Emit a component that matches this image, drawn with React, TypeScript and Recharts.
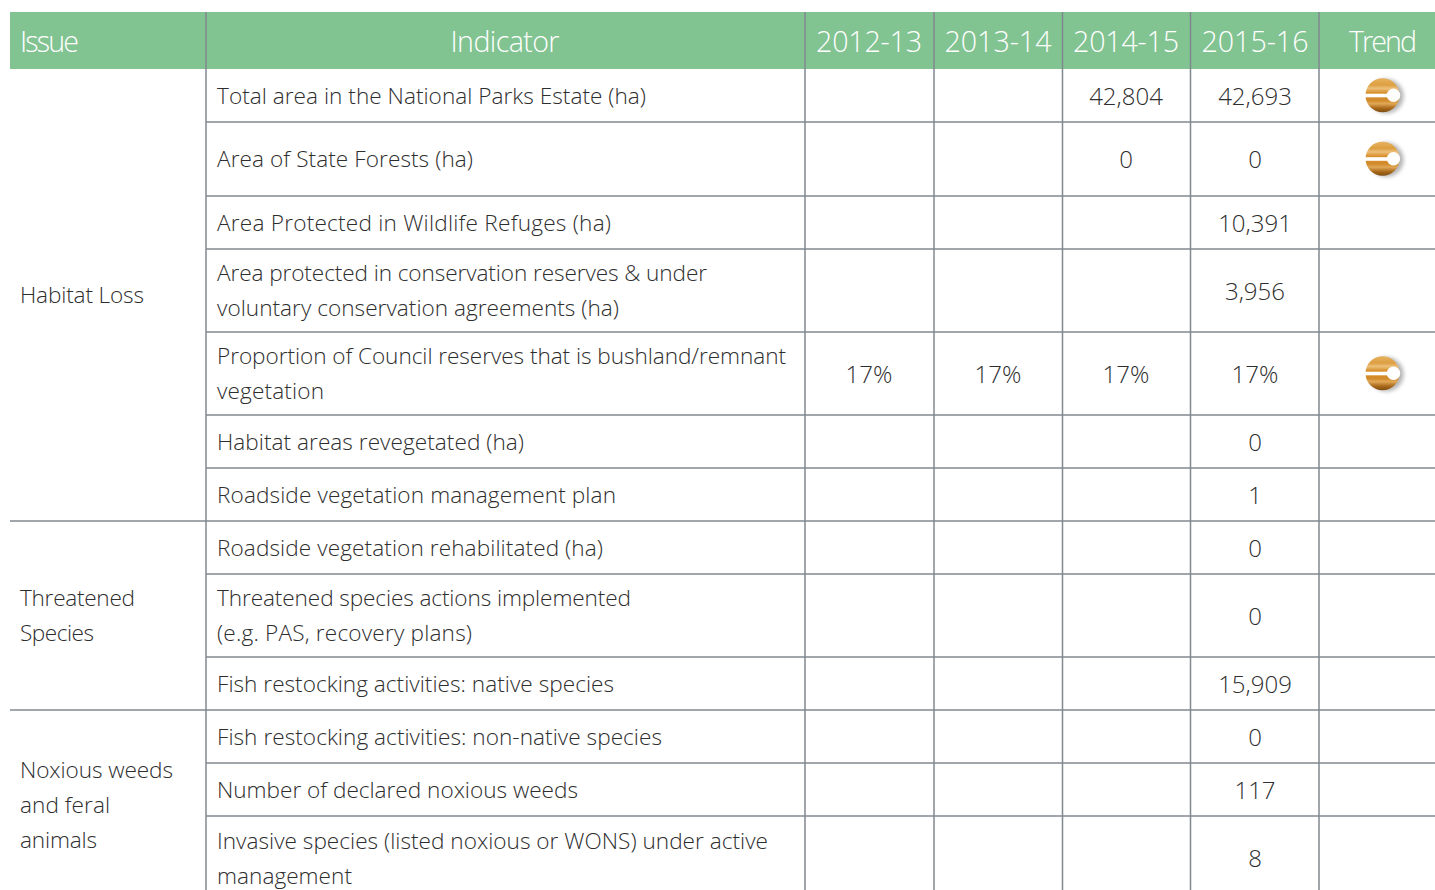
import React from "react";
import { ScatterChart, Scatter, XAxis, YAxis, ReferenceArea, ReferenceLine } from "recharts";

const headers = ["Issue", "Indicator", "2012-13", "2013-14", "2014-15", "2015-16", "Trend"];
const issues = [["Habitat Loss"], ["Threatened", "Species"], ["Noxious weeds", "and feral", "animals"]];
const indicators = [
  ["Total area in the National Parks Estate (ha)"],
  ["Area of State Forests (ha)"],
  ["Area Protected in Wildlife Refuges (ha)"],
  ["Area protected in conservation reserves & under", "voluntary conservation agreements (ha)"],
  ["Proportion of Council reserves that is bushland/remnant", "vegetation"],
  ["Habitat areas revegetated (ha)"],
  ["Roadside vegetation management plan"],
  ["Roadside vegetation rehabilitated (ha)"],
  ["Threatened species actions implemented", "(e.g. PAS, recovery plans)"],
  ["Fish restocking activities: native species"],
  ["Fish restocking activities: non-native species"],
  ["Number of declared noxious weeds"],
  ["Invasive species (listed noxious or WONS) under active", "management"],
];
const values2012 = ["", "", "", "", "17%", "", "", "", "", "", "", "", ""];
const values2013 = ["", "", "", "", "17%", "", "", "", "", "", "", "", ""];
const values2014 = ["42,804", "0", "", "", "17%", "", "", "", "", "", "", "", ""];
const values2015 = ["42,693", "0", "10,391", "3,956", "17%", "0", "1", "0", "0", "15,909", "0", "117", "8"];
const trendRows = [true, true, false, false, true, false, false, false, false, false, false, false, false];

// layout (pixels on the page-sized axes)
const W = 1435, H = 890;
const colEdges = [10, 206, 805, 934, 1062.5, 1190.5, 1319, 1435];
const rowEdges = [69, 122, 196, 249, 332, 415, 468, 521, 574, 657, 710, 763, 816, 900];
const issueSpans = [[0, 7], [7, 10], [10, 13]];
const headCentres = [20, 505, 869, 998, 1126, 1255, 1383];
const headWidths = [59, 109, 106, 107, 106, 107, 68];
const issueWidths = [[124], [115, 74], [153, 90, 77]];
const indicatorWidths = [
  [429], [256], [394], [490, 402], [569, 107], [307], [399], [386], [414, 255], [397], [445], [361], [551, 135],
];
const headTop = 12, lineStep = 34.8, trendX = 1382.5;
const GREY = "#80888f", INK = "#2e2e2e";
const FONT = "'Open Sans', 'Noto Sans', sans-serif";

type Pt = { x: number; y: number; text: string; anchor: string; size: number; color: string; fit?: number };
const rowMid = (a: number, b: number) => (rowEdges[a] + rowEdges[b]) / 2;
const lines = (ls: string[], x: number, mid: number, anchor: string, size: number, widths: number[] = []): Pt[] =>
  ls.map((t, i) => ({
    x,
    y: mid - 0.3 + (i - (ls.length - 1) / 2) * lineStep,
    text: t,
    anchor,
    size,
    color: INK,
    fit: widths[i],
  }));

const headPts: Pt[] = headers.map((t, i) => ({
  x: headCentres[i],
  y: 40,
  text: t,
  anchor: i === 0 ? "start" : "middle",
  size: 28.6,
  color: "#ffffff",
  fit: headWidths[i],
}));
const issuePts: Pt[] = issues.flatMap((ls, i) =>
  lines(ls, 20, rowMid(issueSpans[i][0], issueSpans[i][1]), "start", 22.6, issueWidths[i])
);
const indicatorPts: Pt[] = indicators.flatMap((ls, i) =>
  lines(ls, 217, rowMid(i, i + 1), "start", 22.6, indicatorWidths[i])
);
const valuePts: Pt[] = [values2012, values2013, values2014, values2015].flatMap((col, c) =>
  col.flatMap((v, r) => (v ? lines([v], headCentres[c + 2], rowMid(r, r + 1), "middle", 24) : []))
);
const trendPts = trendRows.flatMap((on, r) => (on ? [{ x: trendX, y: rowMid(r, r + 1) - 0.3 }] : []));

const TextMark = (p: any) => {
  const d: Pt = p.payload;
  return (
    <text
      x={p.cx}
      y={p.cy}
      textAnchor={d.anchor as any}
      dominantBaseline="central"
      fill={d.color}
      textLength={d.fit}
      style={{ fontFamily: FONT, fontSize: d.size, fontWeight: 300 }}
    >
      {d.text}
    </text>
  );
};

const TrendMark = (p: any) => {
  const { cx, cy } = p;
  return (
    <g>
      <circle cx={cx + 4} cy={cy + 1} r={17} fill="#000" opacity={0.3} filter="url(#trendBlur)" />
      <circle cx={cx} cy={cy} r={17} fill="url(#trendFill)" />
      <rect x={cx - 18} y={cy - 1.5} width={29} height={3.6} fill="#fff" />
      <circle cx={cx + 11} cy={cy} r={6.7} fill="#fff" />
    </g>
  );
};

const vLines = colEdges.slice(1, -1);
const hLines = rowEdges.slice(1, -1).map((y, i) => ({
  y,
  x0: issueSpans.some((s) => s[1] === i + 1) ? colEdges[0] : colEdges[1],
}));

export default function App() {
  return (
    <div style={{ position: "absolute", left: 0, top: 0, width: W, height: H, overflow: "hidden", background: "#fff" }}>
      <ScatterChart width={W} height={H} margin={{ top: 0, right: 0, bottom: 0, left: 0 }}>
        <defs>
          <linearGradient id="trendFill" x1="0" y1="0" x2="0" y2="1">
            <stop offset="0" stopColor="#e6b25f" />
            <stop offset="0.2" stopColor="#dd9f42" />
            <stop offset="0.3" stopColor="#ecc07a" />
            <stop offset="0.42" stopColor="#d8922f" />
            <stop offset="0.65" stopColor="#d28a2a" />
            <stop offset="0.75" stopColor="#e0a856" />
            <stop offset="0.88" stopColor="#a9691a" />
            <stop offset="1" stopColor="#7f4e10" />
          </linearGradient>
          <filter id="trendBlur" x="-30%" y="-30%" width="160%" height="160%">
            <feGaussianBlur stdDeviation="2" />
          </filter>
        </defs>
        <XAxis type="number" dataKey="x" domain={[0, W]} hide allowDataOverflow />
        <YAxis type="number" dataKey="y" domain={[0, H]} reversed hide allowDataOverflow />
        <ReferenceArea x1={colEdges[0]} x2={W} y1={headTop} y2={rowEdges[0]} fill="#82c392" fillOpacity={1} stroke="none" />
        {hLines.map((l) => (
          <ReferenceLine key={l.y} segment={[{ x: l.x0, y: l.y }, { x: W, y: l.y }]} stroke={GREY} strokeWidth={1.5} />
        ))}
        {vLines.map((x) => (
          <ReferenceLine key={x} segment={[{ x, y: headTop }, { x, y: H }]} stroke={GREY} strokeWidth={1.5} />
        ))}
        <Scatter data={headPts} shape={TextMark} isAnimationActive={false} />
        <Scatter data={issuePts} shape={TextMark} isAnimationActive={false} />
        <Scatter data={indicatorPts} shape={TextMark} isAnimationActive={false} />
        <Scatter data={valuePts} shape={TextMark} isAnimationActive={false} />
        <Scatter data={trendPts} shape={TrendMark} isAnimationActive={false} />
      </ScatterChart>
    </div>
  );
}
